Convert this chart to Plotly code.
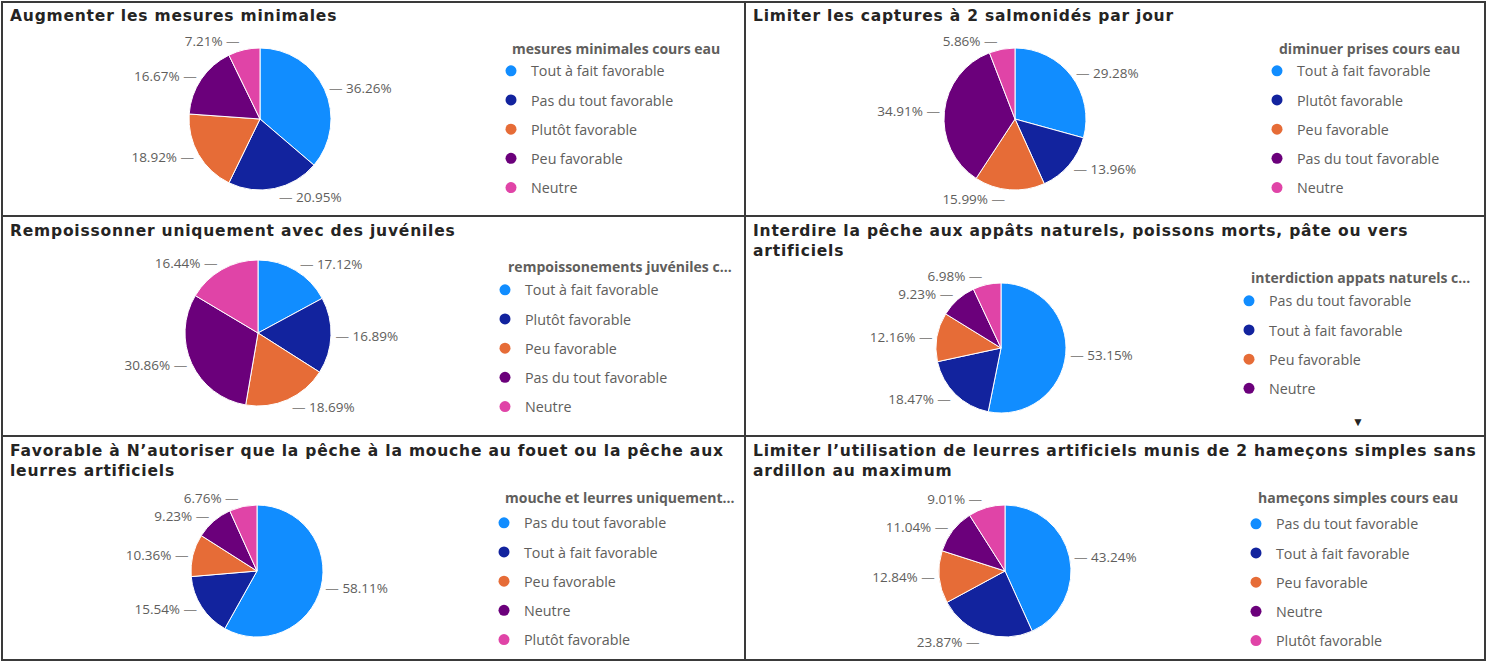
import plotly.graph_objects as go

# Dimensions de la page
W, H = 1487, 662

couleurs = ["#118DFF", "#12239E", "#E66C37", "#6B007B", "#E044A7"]

titres = [
    "Augmenter les mesures minimales",
    "Limiter les captures à 2 salmonidés par jour",
    "Rempoissonner uniquement avec des juvéniles",
    "Interdire la pêche aux appâts naturels, poissons morts, pâte ou vers<br>artificiels",
    "Favorable à N’autoriser que la pêche à la mouche au fouet ou la pêche aux<br>leurres artificiels",
    "Limiter l’utilisation de leurres artificiels munis de 2 hameçons simples sans<br>ardillon au maximum",
]

titres_legende = [
    "mesures minimales cours eau",
    "diminuer prises cours eau",
    "rempoissonements juvéniles c...",
    "interdiction appats naturels c...",
    "mouche et leurres uniquement...",
    "hameçons simples cours eau",
]

categories_1 = ["Tout à fait favorable", "Pas du tout favorable", "Plutôt favorable", "Peu favorable", "Neutre"]
valeurs_1 = [36.26, 20.95, 18.92, 16.67, 7.21]

categories_2 = ["Tout à fait favorable", "Plutôt favorable", "Peu favorable", "Pas du tout favorable", "Neutre"]
valeurs_2 = [29.28, 13.96, 15.99, 34.91, 5.86]

categories_3 = ["Tout à fait favorable", "Plutôt favorable", "Peu favorable", "Pas du tout favorable", "Neutre"]
valeurs_3 = [17.12, 16.89, 18.69, 30.86, 16.44]

categories_4 = ["Pas du tout favorable", "Tout à fait favorable", "Peu favorable", "Neutre", "Plutôt favorable"]
valeurs_4 = [53.15, 18.47, 12.16, 9.23, 6.98]

categories_5 = ["Pas du tout favorable", "Tout à fait favorable", "Peu favorable", "Neutre", "Plutôt favorable"]
valeurs_5 = [58.11, 15.54, 10.36, 9.23, 6.76]

categories_6 = ["Pas du tout favorable", "Tout à fait favorable", "Peu favorable", "Neutre", "Plutôt favorable"]
valeurs_6 = [43.24, 23.87, 12.84, 11.04, 9.01]

donnees = [
    (categories_1, valeurs_1),
    (categories_2, valeurs_2),
    (categories_3, valeurs_3),
    (categories_4, valeurs_4),
    (categories_5, valeurs_5),
    (categories_6, valeurs_6),
]

# mise en page de chaque panneau (pixels): centre et rayon du camembert,
# coin du titre, titre de légende (gauche, milieu), texte de la 1re entrée
panneaux = [
    dict(cx=260, cy=119, r=71, tx=8, ty=5, ltx=512, lty=48, ix=531, iy=71, n=5),
    dict(cx=1015, cy=119, r=71, tx=751, ty=5, ltx=1279, lty=48, ix=1297, iy=71, n=5),
    dict(cx=258, cy=333, r=73, tx=8, ty=220, ltx=508, lty=267, ix=525, iy=290, n=5),
    dict(cx=1001, cy=348, r=65, tx=751, ty=220, ltx=1251, lty=277, ix=1269, iy=301, n=4),
    dict(cx=257, cy=571, r=66, tx=8, ty=440, ltx=505, lty=497, ix=524, iy=523, n=5),
    dict(cx=1005, cy=571, r=66, tx=751, ty=440, ltx=1258, lty=497, ix=1276, iy=524, n=5),
]

police = "Segoe UI, Open Sans, sans-serif"
gris = "#605E5C"
trait = '<span style="color:#8A8886">—</span>'


def px_x(x):
    return x / W


def px_y(y):
    return 1 - y / H


def etiquettes(vals):
    # petit trait de rappel côté camembert, selon le côté de la part
    total = sum(vals)
    cumul = 0
    textes = []
    for v in vals:
        milieu = (cumul + v / 2) / total * 360
        cumul += v
        if milieu < 180:
            textes.append(trait + " %{value:.2f}%")
        else:
            textes.append("%{value:.2f}% " + trait)
    return textes


def titre_espace(texte):
    lignes = texte.split("<br>")
    return "<br>".join(f'<span style="letter-spacing:0.8px"><b>{l}</b></span>' for l in lignes)


fig = go.Figure()
layout_legendes = {}
annotations = []

for i, ((cats, vals), p) in enumerate(zip(donnees, panneaux)):
    nom_legende = "legend" if i == 0 else f"legend{i + 1}"

    fig.add_trace(go.Pie(
        labels=cats,
        values=vals,
        sort=False,
        direction="clockwise",
        rotation=0,
        marker=dict(colors=couleurs, line=dict(color="white", width=1)),
        textposition="outside",
        texttemplate=etiquettes(vals),
        textfont=dict(family=police, size=13.5, color=gris),
        showlegend=False,
        hoverinfo="label+value",
        domain=dict(
            x=[px_x(p["cx"] - p["r"]), px_x(p["cx"] + p["r"])],
            y=[px_y(p["cy"] + p["r"]), px_y(p["cy"] - p["r"])],
        ),
    ))

    # entrées de légende (pastilles rondes)
    for j, cat in enumerate(cats):
        fig.add_trace(go.Scatter(
            x=[None], y=[None], mode="markers",
            marker=dict(color=couleurs[j], size=11, symbol="circle"),
            name=cat, legend=nom_legende, legendgroup=f"g{i}_{j}",
            showlegend=j < p["n"],
        ))

    layout_legendes[nom_legende] = dict(
        x=px_x(p["ix"] - 40), y=px_y(p["iy"] - 16), xanchor="left", yanchor="top",
        font=dict(family=police, size=14.3, color=gris),
        tracegroupgap=7.6, bgcolor="rgba(0,0,0,0)", itemclick=False,
    )

    annotations.append(dict(
        text=f"<b>{titres_legende[i]}</b>", x=px_x(p["ltx"] - 2), y=px_y(p["lty"]),
        xref="paper", yref="paper", xanchor="left", yanchor="middle",
        showarrow=False, font=dict(family=police, size=14, color=gris),
    ))

    annotations.append(dict(
        text=titre_espace(titres[i]), x=px_x(p["tx"]), y=px_y(p["ty"]),
        xref="paper", yref="paper", xanchor="left", yanchor="top",
        align="left", showarrow=False,
        font=dict(family="DejaVu Sans", size=15.5, color="#252423"),
    ))

# flèche de défilement de la légende 4
annotations.append(dict(
    text="▼", x=px_x(1366), y=px_y(421), xref="paper", yref="paper",
    showarrow=False, font=dict(size=12, color="#252423"),
))

# cadres des panneaux
bord = dict(color="#3A3A3A", width=2)
shapes = [
    dict(type="rect", x0=px_x(2), x1=px_x(1485), y0=px_y(660), y1=px_y(2),
         xref="paper", yref="paper", line=bord),
    dict(type="line", x0=px_x(745), x1=px_x(745), y0=px_y(660), y1=px_y(2),
         xref="paper", yref="paper", line=bord),
    dict(type="line", x0=px_x(2), x1=px_x(1485), y0=px_y(216), y1=px_y(216),
         xref="paper", yref="paper", line=bord),
    dict(type="line", x0=px_x(2), x1=px_x(1485), y0=px_y(436), y1=px_y(436),
         xref="paper", yref="paper", line=bord),
]

fig.update_layout(
    width=W, height=H,
    margin=dict(l=0, r=0, t=0, b=0),
    paper_bgcolor="white", plot_bgcolor="white",
    xaxis=dict(visible=False), yaxis=dict(visible=False),
    annotations=annotations, shapes=shapes,
    **layout_legendes,
)

fig.write_html("out.html", config={"displayModeBar": False},
               post_script="document.body.style.margin='0';")
